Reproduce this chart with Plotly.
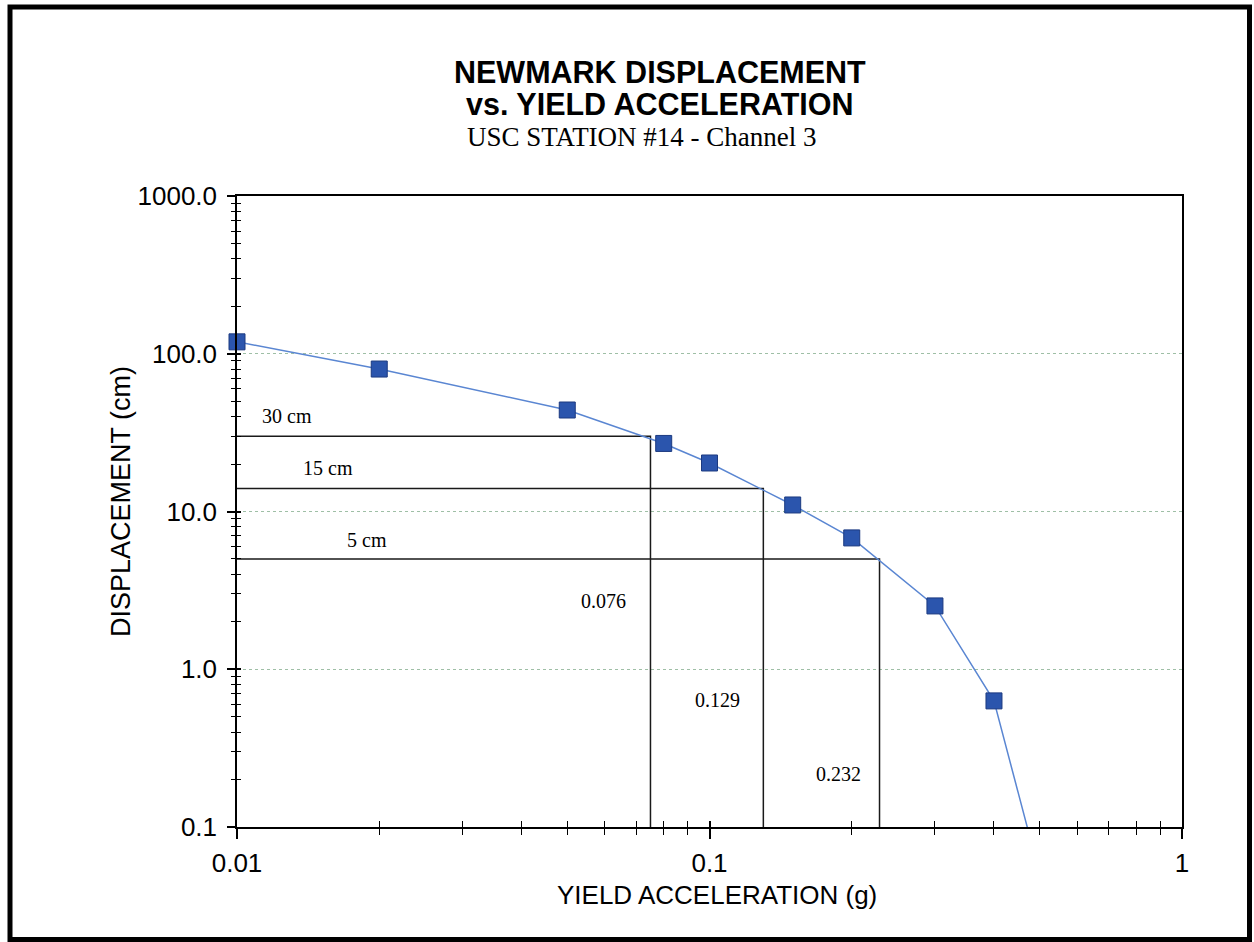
import plotly.graph_objects as go
import math

# ---- data ----
yield_acc = [0.01, 0.02, 0.05, 0.08, 0.1, 0.15, 0.2, 0.3, 0.4, 0.5]
displacement = [119, 80, 44, 27, 20.3, 11.0, 6.8, 2.52, 0.63, 0.05]

ref_disp = [30, 14, 5]              # horizontal reference levels (cm)
ref_disp_labels = ["30 cm", "15 cm", "5 cm"]
ref_acc = [0.075, 0.13, 0.229]      # corresponding yield accelerations
ref_acc_labels = ["0.076", "0.129", "0.232"]

x_ticks = [0.01, 0.1, 1]
x_tick_text = ["0.01", "0.1", "1"]
y_ticks = [0.1, 1, 10, 100, 1000]
y_tick_text = ["0.1", "1.0", "10.0", "100.0", "1000.0"]

X_RANGE = [0.01, 1]
Y_RANGE = [0.1, 1000]

xr = [math.log10(v) for v in X_RANGE]
yr = [math.log10(v) for v in Y_RANGE]

minor_x = [k * 10 ** e for e in (-2, -1) for k in range(2, 10)]
minor_y = [k * 10 ** e for e in (-1, 0, 1, 2) for k in range(2, 10)]

W, H = 1254, 942
L, R, T, B = 237, 72, 196, 115

fig = go.Figure()

# reference lines
for d, a in zip(ref_disp, ref_acc):
    fig.add_trace(go.Scatter(
        x=[X_RANGE[0], a, a], y=[d, d, Y_RANGE[0]], mode="lines",
        line=dict(color="#1a1a1a", width=1.5), hoverinfo="skip",
        showlegend=False, cliponaxis=True))

# curve
fig.add_trace(go.Scatter(
    x=yield_acc, y=displacement, mode="lines",
    line=dict(color="#5a86d2", width=1.5), showlegend=False))

# markers (visible ones inside the range)
mx = [a for a, d in zip(yield_acc, displacement) if d >= Y_RANGE[0]]
my = [d for a, d in zip(yield_acc, displacement) if d >= Y_RANGE[0]]
fig.add_trace(go.Scatter(
    x=mx, y=my, mode="markers",
    marker=dict(symbol="square", size=16, color="#2b55ad",
                line=dict(color="#1c3a80", width=1)),
    cliponaxis=False, showlegend=False))

# invisible trace for the overlay axes (inside ticks)
fig.add_trace(go.Scatter(x=X_RANGE, y=Y_RANGE, xaxis="x2", yaxis="y2",
                         mode="markers", marker=dict(opacity=0),
                         hoverinfo="skip", showlegend=False))

tick_font = dict(family="Liberation Sans, Arial", size=26, color="black")

fig.update_layout(
    width=W, height=H,
    margin=dict(l=L, r=R, t=T, b=B),
    paper_bgcolor="white", plot_bgcolor="white",
    xaxis=dict(type="log", range=xr, tickvals=x_ticks, ticktext=x_tick_text,
               ticks="outside", ticklen=10, tickwidth=1.5, tickcolor="black",
               ticklabelstandoff=2,
               minor=dict(tickvals=minor_x, ticks="outside", ticklen=6,
                          tickwidth=1.2, tickcolor="black", showgrid=False),
               showline=True, linecolor="black", linewidth=1.5, mirror=True,
               showgrid=False, zeroline=False, tickfont=tick_font),
    yaxis=dict(type="log", range=yr, tickvals=y_ticks, ticktext=y_tick_text,
               ticks="outside", ticklen=8, tickwidth=1.5, tickcolor="black",
               ticklabelstandoff=5,
               minor=dict(tickvals=minor_y, ticks="outside", ticklen=4,
                          tickwidth=1.2, tickcolor="black", showgrid=False),
               showline=True, linecolor="black", linewidth=1.5, mirror=True,
               showgrid=True, gridcolor="#9fbfa6", griddash="dot",
               gridwidth=1, zeroline=False, tickfont=tick_font),
    xaxis2=dict(type="log", range=xr, overlaying="x", anchor="y2",
                side="bottom", tickvals=x_ticks, ticks="inside", ticklen=6,
                tickwidth=1.5, tickcolor="black", showticklabels=False,
                minor=dict(tickvals=minor_x, ticks="inside", ticklen=6,
                           tickwidth=1.2, tickcolor="black"),
                showgrid=False, zeroline=False, showline=False),
    yaxis2=dict(type="log", range=yr, overlaying="y", anchor="x2",
                side="left", tickvals=y_ticks, ticks="inside", ticklen=4,
                tickwidth=1.5, tickcolor="black", showticklabels=False,
                minor=dict(tickvals=minor_y, ticks="inside", ticklen=4,
                           tickwidth=1.2, tickcolor="black"),
                showgrid=False, zeroline=False, showline=False),
)

pw, ph = W - L - R, H - T - B
def px(xp):
    return (xp - L) / pw
def py(yp):
    return (H - B - yp) / ph

ann = []
sans = "Liberation Sans, Arial"
serif = "Liberation Serif, Times New Roman"
ann.append(dict(text="<b>NEWMARK DISPLACEMENT</b>", x=px(660), y=py(72),
                font=dict(family=sans, size=30.5, color="black")))
ann.append(dict(text="<b>vs. YIELD ACCELERATION</b>", x=px(660), y=py(104),
                font=dict(family=sans, size=30.5, color="black")))
ann.append(dict(text="USC STATION #14 - Channel 3", x=px(642), y=py(137),
                font=dict(family=serif, size=27, color="black")))
ann.append(dict(text="YIELD ACCELERATION (g)", x=px(717), y=py(895),
                font=dict(family=sans, size=26, color="black")))
ann.append(dict(text="DISPLACEMENT (cm)", x=px(121), y=py(502), textangle=-90,
                font=dict(family=sans, size=27, color="black")))

lab_pos = [(287, 416), (328, 468), (367, 540)]
for t, (xx, yy) in zip(ref_disp_labels, lab_pos):
    ann.append(dict(text=t, x=px(xx), y=py(yy),
                    font=dict(family=serif, size=20, color="black")))
val_pos = [(603, 601), (717, 700), (838, 774)]
for t, (xx, yy) in zip(ref_acc_labels, val_pos):
    ann.append(dict(text=t, x=px(xx), y=py(yy),
                    font=dict(family=serif, size=20, color="black")))

for a in ann:
    a.update(xref="paper", yref="paper", showarrow=False,
             xanchor="center", yanchor="middle")
fig.update_layout(annotations=ann)

# outer frame of the whole figure
fig.add_shape(type="rect", xref="paper", yref="paper",
              x0=px(10), x1=px(1249.5), y0=py(939.5), y1=py(7),
              line=dict(color="black", width=5), fillcolor="rgba(0,0,0,0)",
              layer="above")

fig.write_html("out.html")
